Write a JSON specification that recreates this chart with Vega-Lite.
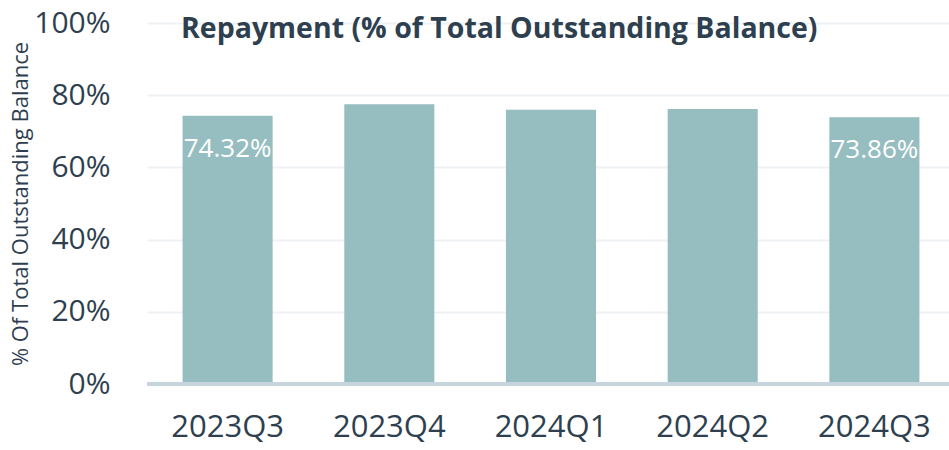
{
  "$schema": "https://vega.github.io/schema/vega-lite/v6.json",
  "autosize": "none",
  "width": 808,
  "height": 361,
  "padding": {"left": 147, "top": 23, "right": 0, "bottom": 66},
  "background": "white",
  "config": {
    "view": {"stroke": null},
    "font": "Open Sans"
  },
  "title": {
    "text": "Repayment (% of Total Outstanding Balance)",
    "anchor": "start",
    "frame": "group",
    "orient": "top",
    "baseline": "alphabetic",
    "offset": -58,
    "dx": 34,
    "font": "Open Sans",
    "fontSize": 28.5,
    "fontWeight": "bold",
    "color": "#2e3f4f"
  },
  "data": {
    "values": [
      {"quarter": "2023Q3", "pct": 0.7432},
      {"quarter": "2023Q4", "pct": 0.775},
      {"quarter": "2024Q1", "pct": 0.760},
      {"quarter": "2024Q2", "pct": 0.762},
      {"quarter": "2024Q3", "pct": 0.7386}
    ]
  },
  "encoding": {
    "x": {
      "field": "quarter",
      "type": "nominal",
      "sort": null,
      "scale": {"paddingInner": 0.443, "paddingOuter": 0.22},
      "axis": {
        "title": null,
        "labelAngle": 0,
        "labelFont": "Open Sans",
        "labelFontSize": 31,
        "labelColor": "#2e3f4f",
        "labelPadding": 28,
        "ticks": false,
        "domain": false,
        "grid": false
      }
    },
    "y": {
      "field": "pct",
      "type": "quantitative",
      "scale": {"domain": [0, 1], "nice": false},
      "axis": {
        "title": "% Of Total Outstanding Balance",
        "titleFont": "Open Sans",
        "titleFontSize": 22,
        "titleFontWeight": "normal",
        "titleColor": "#2e3f4f",
        "titleX": -127,
        "titleBaseline": "middle",
        "values": [0, 0.2, 0.4, 0.6, 0.8, 1],
        "format": ".0%",
        "labelFont": "Open Sans",
        "labelFontSize": 30,
        "labelColor": "#2e3f4f",
        "labelPadding": 37,
        "ticks": false,
        "domain": false,
        "gridColor": "#eef2f5",
        "gridWidth": 2
      }
    }
  },
  "layer": [
    {
      "mark": {"type": "bar", "color": "#96bdc0"}
    },
    {
      "mark": {"type": "rule", "color": "#c6d4dd", "strokeWidth": 3},
      "encoding": {
        "x": {"value": 0},
        "x2": {"value": 802},
        "y": {"datum": 0}
      }
    },
    {
      "transform": [{"filter": "datum.quarter == '2023Q3' || datum.quarter == '2024Q3'"}],
      "mark": {
        "type": "text",
        "color": "white",
        "font": "Open Sans",
        "fontSize": 26,
        "baseline": "alphabetic",
        "align": "center",
        "dy": 41
      },
      "encoding": {
        "text": {"field": "pct", "type": "quantitative", "format": ".2%"}
      }
    }
  ]
}
